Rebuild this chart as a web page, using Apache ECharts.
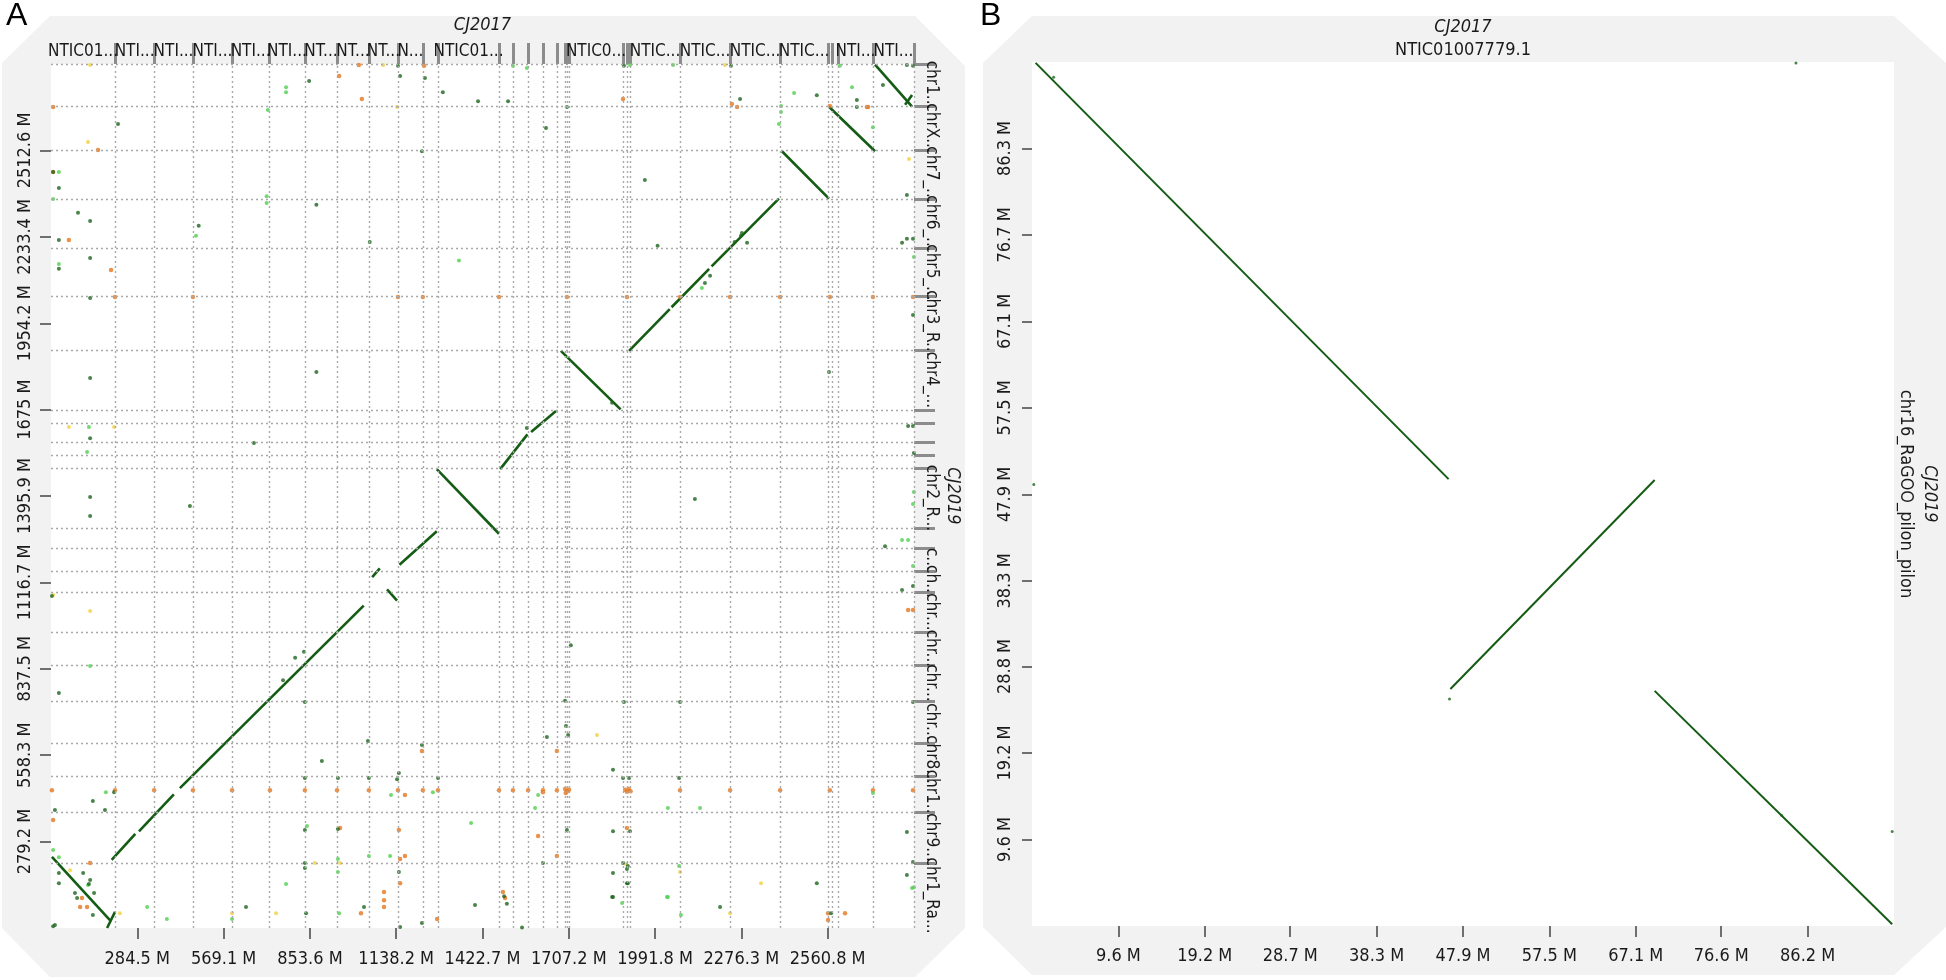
<!DOCTYPE html>
<html>
<head>
<meta charset="utf-8">
<script src="https://cdn.jsdelivr.net/npm/echarts@6/dist/echarts.min.js"></script>
<style>
html, body { margin: 0; background: #fff; }
#chart { width: 1946px; height: 980px; }
</style>
</head>
<body>
<div id="chart"></div>
<script>
// ---- panel A : whole genome dot plot (Mb) ----
const xMaxA = 2845.4;
const yMaxA = 2792;
const xTicksA = [284.5, 569.1, 853.6, 1138.2, 1422.7, 1707.2, 1991.8, 2276.3, 2560.8];
const yTicksA = [279.2, 558.3, 837.5, 1116.7, 1395.9, 1675, 1954.2, 2233.4, 2512.6];
// CJ2017 contig ends (cumulative) and their shortened names
const contigEndsA = [211, 340, 468, 597, 719, 837, 943, 1048, 1144, 1226, 1276, 1477, 1523, 1573, 1622,
  1668, 1694, 1701, 1708, 1886, 1899, 1909, 2074, 2239, 2404, 2562, 2575, 2595, 2710, 2845.4];
const contigNamesA = ['NTIC01...', 'NTI...', 'NTI...', 'NTI...', 'NTI...', 'NTI...', 'NT...', 'NT...', 'NT...', 'N...', '',
  'NTIC01...', '', '', '', '', '', '', '', 'NTIC0...', '', '', 'NTIC...', 'NTIC...', 'NTIC...', 'NTIC...', '', '',
  'NTI...', 'NTI...'];
// CJ2019 chromosome ends (cumulative, from bottom)
const chromEndsA = [210, 375, 491, 598, 734, 850, 957, 1086, 1154, 1228, 1293, 1486, 1528, 1571, 1632, 1674,
  1868, 2040, 2197, 2356, 2514, 2656, 2792];
const chromNamesA = ['chr1_Ra...', 'chr9...', 'chr1...', 'chr8...', 'chr...', 'chr...', 'chr...', 'chr...', 'ch...', 'c...', '',
  'chr2_R...', '', '', '', '', 'chr4_...', 'chr3_R...', 'chr5_...', 'chr6_...', 'chr7_...', 'chrX...', 'chr1...'];

// alignments [x1, y1, x2, y2]
const segA = [
  [3, 230, 195, 25], [185, 0, 211, 52],
  [200, 220, 278, 304], [290, 312, 405, 432], [425, 452, 1031, 1042],
  [1059, 1134, 1084, 1162], [1108, 1094, 1141, 1058],
  [1149, 1174, 1272, 1282],
  [1272, 1483, 1477, 1274],
  [1481, 1483, 1571, 1595], [1583, 1603, 1665, 1671],
  [1681, 1865, 1878, 1676],
  [1906, 1865, 2040, 2000], [2046, 2006, 2170, 2130], [2178, 2138, 2400, 2357],
  [2410, 2510, 2565, 2357],
  [2565, 2654, 2717, 2510],
  [2717, 2790, 2839, 2654], [2816, 2660, 2839, 2692]
];

const darkA = [
  [851, 2737], [1144, 2786], [1151, 2753], [1233, 2747], [1292, 2701], [1408, 2672], [1507, 2672], [1889, 2786],
  [1701, 2653], [2242, 2786], [2272, 2679], [2525, 2691], [2657, 2676], [2657, 2653], [2743, 2724], [2822, 2789],
  [2842, 2786], [2822, 2369], [2806, 2214], [2822, 2227], [2842, 2227], [2842, 1981], [2826, 1622], [2842, 1622],
  [2845, 1535], [2750, 1234], [2842, 1105], [2806, 1092], [2842, 730], [2822, 310], [2842, 213], [2822, 171],
  [7, 2443], [26, 2391], [89, 2311], [129, 2285], [26, 2223], [129, 2165], [26, 2130], [129, 2036], [129, 1777],
  [129, 1583], [129, 1393], [129, 1331], [3, 1073], [26, 759], [208, 439], [138, 410], [13, 381], [178, 381],
  [26, 178], [106, 178], [129, 155], [86, 97], [138, 42], [13, 10], [26, 145], [125, 142], [79, 113], [142, 113],
  [7, 6], [643, 68], [841, 48], [1032, 68], [1151, 3], [1223, 16], [1398, 74], [1503, 78], [1553, 2], [1850, 100],
  [1902, 145], [2206, 68], [2525, 145], [2572, 48], [837, 730], [837, 485], [893, 540], [946, 485], [1045, 604],
  [1048, 485], [1147, 501], [1141, 481], [1223, 591], [1276, 485], [837, 317], [946, 320], [837, 210], [837, 194],
  [1147, 181], [1494, 103], [1695, 734], [1889, 730], [2074, 730], [1698, 653], [1705, 624], [1635, 617],
  [1853, 511], [1886, 485], [1906, 485], [2071, 485], [1701, 317], [1853, 313], [1909, 313], [1622, 210],
  [1886, 210], [1902, 200], [1899, 191], [1853, 178], [1899, 145], [1853, 100], [221, 2598], [487, 2269],
  [875, 2337], [1051, 2217], [1223, 2510], [1958, 2417], [2000, 2205], [2565, 1797], [2278, 2246], [875, 1797],
  [669, 1567], [1632, 2585], [458, 1364], [1714, 914], [2123, 1386], [2156, 2084], [2173, 2108], [2254, 2217],
  [2275, 2237], [2295, 2214], [765, 801], [805, 873], [834, 893], [1569, 1616], [1850, 1697]
];
const lightA = [
  [775, 2717], [775, 2701], [715, 2643], [1523, 2786], [1909, 2789], [2051, 2789], [2407, 2656], [2407, 2637],
  [2601, 2786], [2641, 2717], [2710, 2588], [2845, 2168], [2845, 1409], [2842, 1370], [2806, 1254], [2826, 1254],
  [2842, 1170], [2710, 436], [2839, 129], [26, 2443], [7, 2356], [26, 2146], [125, 1619], [119, 1538], [129, 847],
  [181, 439], [7, 252], [26, 229], [122, 139], [317, 68], [382, 29], [597, 29], [775, 142], [950, 48], [1883, 81],
  [2031, 100], [2077, 42], [2845, 132], [844, 330], [1121, 430], [1259, 439], [1385, 339], [1118, 233], [1048, 233],
  [946, 223], [946, 181], [1596, 388], [2034, 388], [2140, 388], [2071, 200], [2034, 100], [1606, 430], [478, 2237],
  [711, 2365], [711, 2343], [1345, 2157], [1569, 2779], [2146, 2068], [2400, 2598], [2450, 2698]
];
const orangeA = [
  [7, 2653], [950, 2753], [1025, 2679], [1015, 2789], [1230, 2786], [1886, 2679], [2245, 2663], [2262, 2653],
  [2568, 2656], [2694, 2653], [2690, 2653], [2826, 1028], [2842, 1028], [155, 2514], [7, 2443], [59, 2223],
  [198, 2126], [129, 210], [102, 97], [119, 68], [96, 68], [7, 349], [1022, 48], [1098, 90], [1098, 68], [1151, 145],
  [1273, 29], [1490, 116], [1497, 97], [2562, 48], [2618, 48], [2562, 26], [1223, 572], [953, 323], [1147, 317],
  [1167, 430], [1167, 233], [1151, 223], [1098, 116], [1668, 572], [1606, 297], [1899, 323], [1668, 233], [1622, 439],
  // repeat row near 445 Mb
  [3, 445], [211, 445], [340, 445], [468, 445], [597, 445], [722, 445], [837, 445], [943, 445], [1048, 445],
  [1144, 445], [1226, 445], [1276, 445], [1477, 445], [1523, 445], [1573, 445], [1622, 445], [1668, 445],
  [1695, 449], [1701, 441], [1708, 447], [1697, 436], [1893, 447], [1899, 440], [1905, 449], [1911, 442],
  [2074, 445], [2239, 445], [2404, 445], [2568, 445], [2710, 445], [2842, 445],
  // repeat row near 2040 Mb
  [211, 2039], [468, 2039], [1144, 2039], [1226, 2039], [1477, 2039], [1701, 2039], [1899, 2039], [2074, 2039],
  [2239, 2039], [2404, 2039], [2568, 2039], [2710, 2039], [2842, 2039]
];
const yellowA = [
  [129, 2789], [1095, 2789], [1141, 2653], [2222, 2789], [2829, 2485], [122, 2540], [59, 1619], [208, 1619],
  [7, 1076], [129, 1024], [63, 187], [227, 48], [597, 48], [742, 48], [2239, 48], [2341, 145], [953, 210],
  [870, 210], [1800, 624], [1896, 207], [2074, 181]
];

// ---- panel B : NTIC01007779.1 vs chr16 (Mb) ----
const xMaxB = 95.8;
const yMaxB = 95.9;
const xTicksB = [9.6, 19.2, 28.7, 38.3, 47.9, 57.5, 67.1, 76.6, 86.2];
const yTicksB = [9.6, 19.2, 28.8, 38.3, 47.9, 57.5, 67.1, 76.7, 86.3];
const segB = [[0.4, 95.8, 46.3, 49.6], [46.5, 26.3, 69.2, 49.5], [69.2, 26.1, 95.6, 0.2]];
const dotsB = [[0.2, 49], [84.9, 95.8], [95.6, 10.5], [46.4, 25.2], [2.4, 94.2], [83.3, 12.3]];

const FONT = '"Liberation Sans Narrow", "DejaVu Sans Condensed", sans-serif';
const GREEN = '#145c14';
const GRAY_BG = '#f2f2f2';

function mids(ends) {
  return ends.map((e, i) => ((i === 0 ? 0 : ends[i - 1]) + e) / 2);
}
const contigMidsA = mids(contigEndsA);
const chromMidsA = mids(chromEndsA);
// empty end labels keep the min/max label logic away from the real names
const contigLabelPosA = [0].concat(contigMidsA, [xMaxA]);
const chromLabelPosA = [0].concat(chromMidsA, [yMaxA]);

function toLines(segs) {
  return segs.map(s => ({ coords: [[s[0], s[1]], [s[2], s[3]]] }));
}
function fmtM(v) { return v.toFixed(1).replace(/\.0$/, '') + ' M'; }

const tickText = { fontFamily: FONT, fontSize: 18, color: '#1a1a1a', hideOverlap: false };
const nameText = { fontFamily: FONT, fontSize: 17, color: '#1a1a1a', hideOverlap: false };
const noLine = { show: false, onZero: false };

const chart = echarts.init(document.getElementById('chart'));
chart.setOption({
  animation: false,
  backgroundColor: '#fff',
  graphic: [
    { type: 'polygon', z: -100, shape: { points: [[2, 63], [50, 16], [915, 16], [965, 66], [965, 928], [915, 977], [50, 977], [2, 928]] }, style: { fill: GRAY_BG } },
    { type: 'polygon', z: -100, shape: { points: [[983, 63], [1032, 16], [1894, 16], [1946, 63], [1946, 927], [1894, 975], [1032, 975], [983, 927]] }, style: { fill: GRAY_BG } },
    { type: 'text', left: 6, top: 0, style: { text: 'A', font: '32px "Liberation Sans", sans-serif', fill: '#000' } },
    { type: 'text', left: 980, top: 0, style: { text: 'B', font: '32px "Liberation Sans", sans-serif', fill: '#000' } }
  ],
  grid: [
    { left: 51, top: 64, width: 863, height: 864, show: true, backgroundColor: '#fff', borderWidth: 0 },
    { left: 1032, top: 62, width: 862, height: 864, show: true, backgroundColor: '#fff', borderWidth: 0 }
  ],
  xAxis: [
    { gridIndex: 0, type: 'value', position: 'bottom', min: 0, max: xMaxA,
      axisLine: noLine, splitLine: { show: false },
      axisTick: { customValues: xTicksA, length: 11, lineStyle: { color: '#444', width: 1.5 } },
      axisLabel: Object.assign({ customValues: xTicksA, formatter: fmtM, margin: 22 }, tickText) },
    { gridIndex: 0, type: 'value', position: 'top', min: 0, max: xMaxA,
      axisLine: noLine, splitLine: { show: false },
      axisTick: { customValues: contigEndsA, length: 21, lineStyle: { color: '#8c8c8c', width: 3 } },
      axisLabel: Object.assign({ customValues: contigLabelPosA, margin: 4,
        formatter: v => contigNamesA[contigMidsA.indexOf(v)] || '' }, nameText),
      name: 'CJ2017', nameLocation: 'middle', nameGap: 30,
      nameTextStyle: { fontFamily: FONT, fontSize: 18, fontStyle: 'italic', color: '#1a1a1a' } },
    { gridIndex: 1, type: 'value', position: 'bottom', min: 0, max: xMaxB,
      axisLine: noLine, splitLine: { show: false },
      axisTick: { customValues: xTicksB, length: 11, lineStyle: { color: '#444', width: 1.5 } },
      axisLabel: Object.assign({ customValues: xTicksB, formatter: fmtM, margin: 21 }, tickText) },
    { gridIndex: 1, type: 'value', position: 'top', min: 0, max: xMaxB,
      axisLine: noLine, splitLine: { show: false }, axisTick: { show: false }, axisLabel: { show: false },
      name: '{a|CJ2017}\n{b|NTIC01007779.1}', nameLocation: 'middle', nameGap: 0,
      nameTextStyle: { rich: {
        a: { fontFamily: FONT, fontSize: 18, fontStyle: 'italic', color: '#1a1a1a', lineHeight: 23 },
        b: { fontFamily: FONT, fontSize: 18, color: '#1a1a1a', lineHeight: 23 } } } }
  ],
  yAxis: [
    { gridIndex: 0, type: 'value', position: 'left', min: 0, max: yMaxA,
      axisLine: noLine, splitLine: { show: false },
      axisTick: { customValues: yTicksA, length: 11, lineStyle: { color: '#444', width: 1.5 } },
      axisLabel: Object.assign({ customValues: yTicksA, formatter: fmtM, rotate: 90, margin: 17 }, tickText) },
    { gridIndex: 0, type: 'value', position: 'right', min: 0, max: yMaxA,
      axisLine: noLine, splitLine: { show: false },
      axisTick: { customValues: chromEndsA, length: 21, lineStyle: { color: '#8c8c8c', width: 3 } },
      axisLabel: Object.assign({ customValues: chromLabelPosA, rotate: -90, margin: 9,
        formatter: v => chromNamesA[chromMidsA.indexOf(v)] || '' }, nameText),
      name: 'CJ2019', nameLocation: 'middle', nameGap: 30, nameRotate: -90,
      nameTextStyle: { fontFamily: FONT, fontSize: 18, fontStyle: 'italic', color: '#1a1a1a' } },
    { gridIndex: 1, type: 'value', position: 'left', min: 0, max: yMaxB,
      axisLine: noLine, splitLine: { show: false },
      axisTick: { customValues: yTicksB, length: 10, lineStyle: { color: '#444', width: 1.5 } },
      axisLabel: Object.assign({ customValues: yTicksB, formatter: fmtM, rotate: 90, margin: 18 }, tickText) },
    { gridIndex: 1, type: 'value', position: 'right', min: 0, max: yMaxB,
      axisLine: noLine, splitLine: { show: false }, axisTick: { show: false }, axisLabel: { show: false },
      name: '{a|CJ2019}\n{b|chr16_RaGOO_pilon_pilon}', nameLocation: 'middle', nameGap: 0, nameRotate: -90,
      nameTextStyle: { rich: {
        a: { fontFamily: FONT, fontSize: 18, fontStyle: 'italic', color: '#1a1a1a', lineHeight: 24 },
        b: { fontFamily: FONT, fontSize: 18, color: '#1a1a1a', lineHeight: 24 } } } }
  ],
  series: [
    { type: 'line', xAxisIndex: 0, yAxisIndex: 0, data: [], silent: true,
      markLine: { symbol: 'none', silent: true, label: { show: false },
        lineStyle: { color: '#a9a9a9', type: [2, 3], width: 1.4 },
        emphasis: { disabled: true },
        data: contigEndsA.map(v => ({ xAxis: v })).concat(chromEndsA.map(v => ({ yAxis: v }))) } },
    { type: 'scatter', xAxisIndex: 0, yAxisIndex: 0, data: yellowA, symbolSize: 4, itemStyle: { color: '#f2cf3a' }, silent: true },
    { type: 'scatter', xAxisIndex: 0, yAxisIndex: 0, data: orangeA, symbolSize: 4.5, itemStyle: { color: '#e5771e' }, silent: true },
    { type: 'scatter', xAxisIndex: 0, yAxisIndex: 0, data: lightA, symbolSize: 4, itemStyle: { color: '#4fcf4f' }, silent: true },
    { type: 'scatter', xAxisIndex: 0, yAxisIndex: 0, data: darkA, symbolSize: 4, itemStyle: { color: '#1d651d' }, silent: true },
    { type: 'lines', coordinateSystem: 'cartesian2d', xAxisIndex: 0, yAxisIndex: 0, data: toLines(segA),
      lineStyle: { color: GREEN, width: 2.6, opacity: 1 }, silent: true },
    { type: 'scatter', xAxisIndex: 2, yAxisIndex: 2, data: dotsB, symbolSize: 3, itemStyle: { color: '#1d651d' }, silent: true },
    { type: 'lines', coordinateSystem: 'cartesian2d', xAxisIndex: 2, yAxisIndex: 2, data: toLines(segB),
      lineStyle: { color: GREEN, width: 2, opacity: 1 }, silent: true }
  ]
});
</script>
</body>
</html>
